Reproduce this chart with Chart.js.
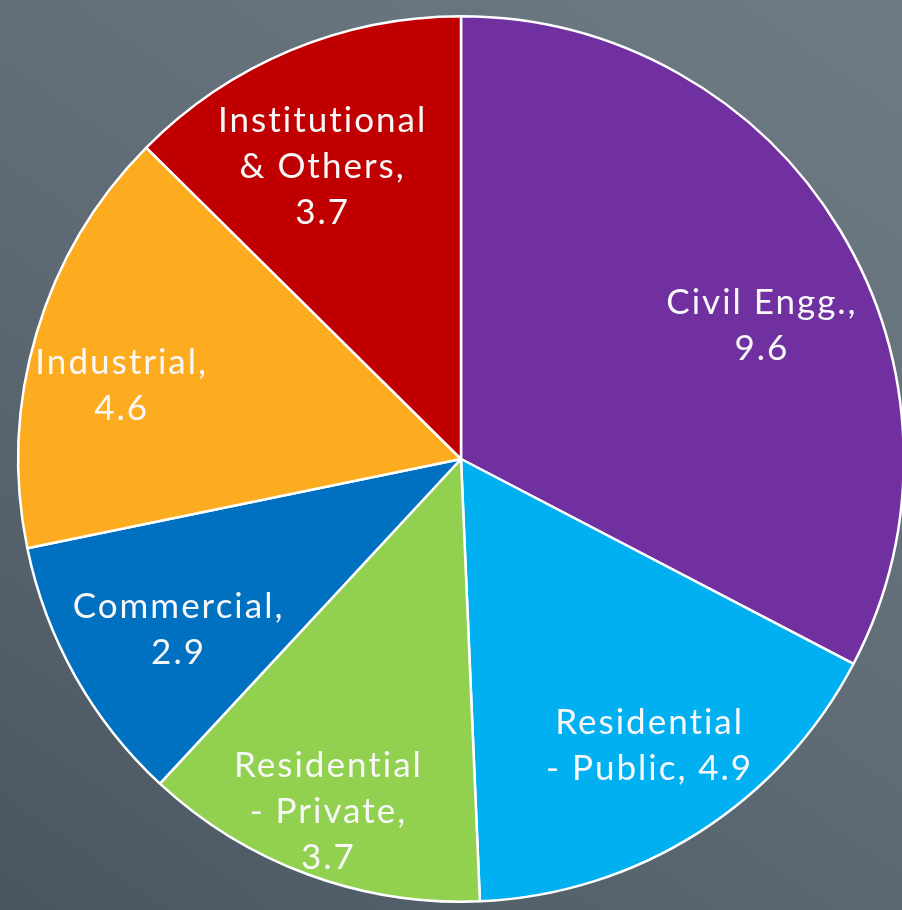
<!DOCTYPE html>
<html>
<head>
<meta charset="utf-8">
<script src="https://cdn.jsdelivr.net/npm/chart.js@4.4.1/dist/chart.umd.min.js"></script>
<style>
    html, body {
        margin: 0;
        padding: 0;
        width: 902px;
        height: 910px;
        overflow: hidden;
        background: linear-gradient(215deg, #6f7b84 0%, #5f6c76 50%, #4a5560 100%);
    }
    #wrap {
        position: absolute;
        left: 0;
        top: 0;
        width: 922px;
        height: 910px;
    }
</style>
</head>
<body>
<div id="wrap">
    <canvas id="sectorChart" width="922" height="910"></canvas>
</div>
<script>
// Construction output by sector
const sectors = ['Civil Engg.', 'Residential - Public', 'Residential - Private', 'Commercial', 'Industrial', 'Institutional & Others'];
const values = [9.6, 4.9, 3.7, 2.9, 4.6, 3.7];
// how each label is broken into lines inside its slice
const labelLines = [
    ['Civil Engg.,', '9.6'],
    ['Residential', '- Public, 4.9'],
    ['Residential', '- Private,', '3.7'],
    ['Commercial,', '2.9'],
    ['Industrial,', '4.6'],
    ['Institutional', '& Others,', '3.7']
];
const sliceColors = ['#7030a0', '#00b0f0', '#92d050', '#0070c0', '#fdab1f', '#c00000'];

// label placement: fraction of the radius and angle shift (deg) from the slice middle
const labelRadius = [0.743, 0.775, 0.851, 0.745, 0.784, 0.73];
const labelShift = [7.4, -0.9, 0.4, -1.7, -4.4, -2.7];

const sliceLabels = {
    id: 'sliceLabels',
    afterDatasetsDraw(chart) {
        const ctx = chart.ctx;
        const meta = chart.getDatasetMeta(0);
        ctx.save();
        ctx.fillStyle = '#f8f8f8';
        ctx.font = '35px Lato';
        ctx.letterSpacing = '2px';
        ctx.textAlign = 'center';
        ctx.textBaseline = 'middle';
        const lineHeight = 46;
        meta.data.forEach(function (arc, i) {
            const p = arc.getProps(['x', 'y', 'startAngle', 'endAngle', 'outerRadius'], true);
            const mid = (p.startAngle + p.endAngle) / 2 + labelShift[i] * Math.PI / 180;
            const r = p.outerRadius * labelRadius[i];
            const cx = p.x + Math.cos(mid) * r;
            const cy = p.y + Math.sin(mid) * r;
            const lines = labelLines[i];
            const top = cy - (lines.length - 1) * lineHeight / 2;
            lines.forEach(function (line, j) {
                ctx.fillText(line, cx, top + j * lineHeight);
            });
        });
        ctx.restore();
    }
};

document.fonts.load('35px Lato').then(function () {
    const ctx = document.getElementById('sectorChart').getContext('2d');
    new Chart(ctx, {
        type: 'pie',
        data: {
            labels: sectors,
            datasets: [{
                data: values,
                backgroundColor: sliceColors,
                borderColor: '#ffffff',
                borderWidth: 2.5
            }]
        },
        options: {
            responsive: false,
            animation: false,
            devicePixelRatio: 1,
            layout: {
                padding: { left: 17, right: 17, top: 15, bottom: 7 }
            },
            plugins: {
                legend: { display: false },
                tooltip: { enabled: false }
            }
        },
        plugins: [sliceLabels]
    });
});
</script>
</body>
</html>
